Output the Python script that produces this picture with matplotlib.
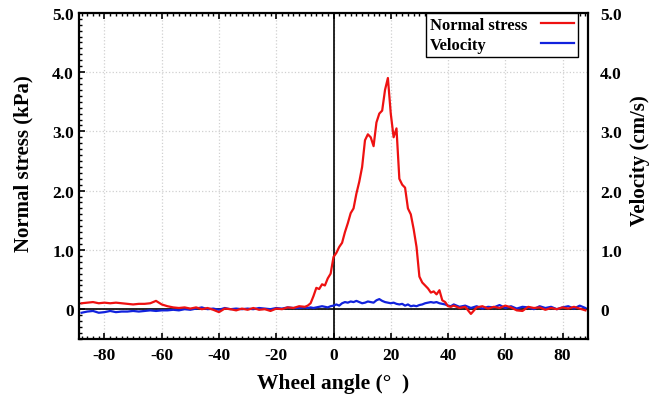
import numpy as np
import matplotlib.pyplot as plt
from matplotlib.ticker import MultipleLocator, FixedLocator

plt.rcParams['font.family'] = ['Liberation Serif', 'DejaVu Serif']
plt.rcParams['font.weight'] = 'bold'
plt.rcParams['axes.unicode_minus'] = False

# wheel angle (deg): coarse outside the contact zone, fine inside
angle = [-88, -86, -84, -82, -80, -78, -76, -74, -72, -70, -68, -66, -64, -62, -60,
         -58, -56, -54, -52, -50, -48, -46, -44, -42, -40, -38, -36, -34, -32, -30,
         -28, -26, -24, -22, -20, -18, -16, -14, -12, -10,
         -9, -8, -7, -6, -5, -4, -3, -2, -1, 0, 1, 2, 3, 4, 5, 6, 7, 8, 9, 10,
         11, 12, 13, 14, 15, 16, 17, 18, 19, 20, 21, 22, 23, 24, 25, 26, 27, 28, 29, 30,
         31, 32, 33, 34, 35, 36, 37, 38, 39, 40, 41,
         42, 44, 46, 48, 50, 52, 54, 56, 58, 60, 62, 64, 66, 68, 70, 72, 74, 76, 78, 80,
         82, 84, 86, 88]

normal_stress = [0.10, 0.11, 0.12, 0.10, 0.11, 0.10, 0.11, 0.10, 0.09, 0.08, 0.09, 0.09, 0.10, 0.14, 0.08,
                 0.05, 0.03, 0.02, 0.03, 0.01, 0.03, 0.00, 0.02, -0.01, -0.05, 0.01, 0.00, -0.02, 0.01, -0.01,
                 0.02, -0.01, 0.00, -0.03, 0.01, 0.00, 0.03, 0.02, 0.05, 0.04,
                 0.06, 0.10, 0.22, 0.36, 0.34, 0.42, 0.40, 0.52, 0.60, 0.88, 0.95, 1.05, 1.12, 1.30, 1.45,
                 1.62, 1.70, 1.95, 2.15, 2.40,
                 2.85, 2.95, 2.90, 2.75, 3.15, 3.30, 3.35, 3.70, 3.90, 3.30, 2.90, 3.05, 2.20, 2.10, 2.05,
                 1.70, 1.60, 1.35, 1.05, 0.55,
                 0.45, 0.40, 0.35, 0.28, 0.30, 0.25, 0.32, 0.15, 0.12, 0.05, 0.04,
                 0.06, 0.02, 0.04, -0.08, 0.03, 0.05, 0.01, 0.04, 0.02, 0.06, 0.03, -0.02, -0.03, 0.04,
                 0.02, 0.03, -0.01, 0.02, 0.00, 0.03,
                 0.01, 0.04, 0.01, -0.02]

velocity = [-0.06, -0.04, -0.03, -0.06, -0.05, -0.03, -0.05, -0.04, -0.04, -0.03, -0.04, -0.03, -0.02, -0.03, -0.02,
            -0.02, -0.01, -0.02, 0.00, -0.01, 0.01, 0.03, 0.00, 0.01, -0.01, 0.02, 0.00, 0.01, 0.00, 0.01,
            0.00, 0.02, 0.01, 0.00, 0.02, 0.01, 0.03, 0.02, 0.02, 0.03,
            0.02, 0.03, 0.02, 0.03, 0.04, 0.05, 0.04, 0.03, 0.05, 0.06, 0.08, 0.06, 0.10, 0.12, 0.11,
            0.13, 0.12, 0.14, 0.12, 0.10,
            0.11, 0.13, 0.12, 0.11, 0.15, 0.17, 0.14, 0.12, 0.11, 0.10, 0.11, 0.09, 0.08, 0.09, 0.06,
            0.08, 0.05, 0.06, 0.05, 0.07,
            0.08, 0.10, 0.11, 0.12, 0.11, 0.12, 0.10, 0.09, 0.08, 0.06, 0.05,
            0.08, 0.04, 0.06, 0.02, 0.05, 0.01, 0.04, 0.03, 0.07, 0.02, 0.05, 0.01, 0.04, 0.03,
            0.00, 0.05, 0.02, 0.04, 0.00, 0.03,
            0.05, 0.01, 0.06, 0.02]

x_ticks = [-80, -60, -40, -20, 0, 20, 40, 60, 80]
y_ticks = [0, 1, 2, 3, 4, 5]
y_labels = ['0', '1.0', '2.0', '3.0', '4.0', '5.0']

fig = plt.figure(figsize=(6.67, 4.06), dpi=100)
ax = fig.add_axes([0.118, 0.163, 0.764, 0.803])

ax.axvline(0, color='black', lw=1.2, zorder=2.5)
ax.axhline(0, color='black', lw=1.2, zorder=2.5)
ax.plot(angle, normal_stress, color='#ee1111', lw=1.6, label='Normal stress', zorder=4)
ax.plot(angle, velocity, color='#1122dd', lw=1.6, label='Velocity', zorder=3)

ax.set_xlim(-89, 89)
ax.set_ylim(-0.5, 5.0)
ax.xaxis.set_major_locator(FixedLocator(x_ticks))
ax.xaxis.set_minor_locator(MultipleLocator(2))
ax.set_yticks(y_ticks)
ax.set_yticklabels(y_labels)
ax.yaxis.set_minor_locator(MultipleLocator(0.1))
ax.grid(True, which='major', color='#d0d0d0', linestyle=':', lw=0.9)

ax.tick_params(which='both', direction='in', top=True, right=True, labelsize=12.5)
ax.tick_params(axis='x', pad=6)
ax.tick_params(which='major', length=4, width=1.2)
ax.tick_params(which='minor', length=2.5, width=1.0)
for s in ax.spines.values():
    s.set_linewidth(1.6)

ax.set_xlabel('Wheel angle (°  )', fontsize=15.5, fontweight='bold', labelpad=7)
ax.set_ylabel('Normal stress (kPa)', fontsize=15, fontweight='bold')
ax.yaxis.set_label_coords(-0.089, 0.54)

ax2 = ax.twinx()
ax2.set_ylim(-0.5, 5.0)
ax2.set_yticks(y_ticks)
ax2.set_yticklabels(y_labels)
ax2.tick_params(axis='y', direction='in', length=0, labelsize=12.5, pad=8.5)
ax2.set_ylabel('Velocity (cm/s)', fontsize=15, fontweight='bold')
ax2.yaxis.set_label_coords(1.082, 0.55)
for s in ax2.spines.values():
    s.set_visible(False)

leg = ax.legend(loc='upper right', bbox_to_anchor=(0.98, 1.0), borderaxespad=0,
                markerfirst=False, fancybox=False, framealpha=1, edgecolor='black',
                handlelength=2.0, borderpad=0.25, labelspacing=0.25,
                prop={'weight': 'bold', 'size': 12})
leg.get_frame().set_linewidth(1.0)

# left-align legend text while keeping the lines on the right
fig.canvas.draw()
r = fig.canvas.get_renderer()
widths = [t.get_window_extent(r).width for t in leg.get_texts()]
wmax = max(widths)
for col in leg._legend_handle_box.get_children():
    for row, w in zip(col.get_children(), widths):
        row.sep += (wmax - w) * 72 / fig.dpi

fig.savefig('out.png', dpi=100)
